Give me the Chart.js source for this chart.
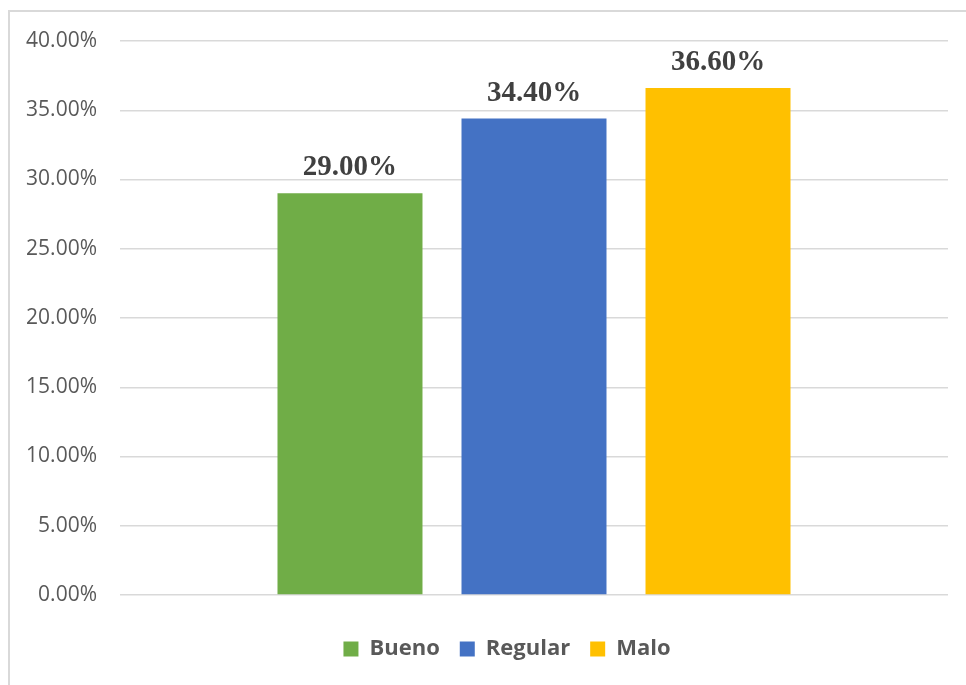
<!DOCTYPE html>
<html>
<head>
<meta charset="utf-8">
<script src="https://cdn.jsdelivr.net/npm/chart.js@4.4.0/dist/chart.umd.min.js"></script>
<style>
html,body{margin:0;padding:0;background:#fff;width:966px;height:685px;overflow:hidden;}
#frame{position:absolute;left:8px;top:10px;width:980px;height:700px;border-left:2px solid #d9d9d9;border-top:2px solid #d9d9d9;box-sizing:border-box;}
#wrap{position:absolute;left:0;top:0;width:1000px;height:685px;}
</style>
</head>
<body>
<div id="frame"></div>
<div id="wrap"><canvas id="c" width="1000" height="685"></canvas></div>
<script>
const categories = ['Bueno', 'Regular', 'Malo'];
const values = [29.0, 34.4, 36.6];
const colors = ['#70ad47', '#4472c4', '#ffc000'];
const yTicks = [0, 5, 10, 15, 20, 25, 30, 35, 40];

const datasets = categories.map((name, i) => ({
  label: name,
  data: [values[i]],
  backgroundColor: colors[i],
  borderWidth: 0,
  categoryPercentage: 0.6667,
  barPercentage: 0.788
}));

const valueLabels = {
  id: 'valueLabels',
  afterDatasetsDraw(chart) {
    const ctx = chart.ctx;
    ctx.save();
    ctx.font = 'bold 29px "Liberation Serif", "Times New Roman", serif';
    ctx.fillStyle = '#404040';
    ctx.textAlign = 'center';
    ctx.textBaseline = 'alphabetic';
    chart.data.datasets.forEach((ds, i) => {
      const meta = chart.getDatasetMeta(i);
      meta.data.forEach((bar, j) => {
        ctx.fillText(ds.data[j].toFixed(2) + '%', bar.x, bar.y - 18);
      });
    });
    ctx.restore();
  }
};

new Chart(document.getElementById('c'), {
  type: 'bar',
  data: { labels: [''], datasets },
  plugins: [valueLabels],
  options: {
    responsive: false,
    animation: false,
    devicePixelRatio: 1,
    layout: { padding: { left: 20, right: 6, top: 41, bottom: 15 } },
    plugins: {
      tooltip: { enabled: false },
      legend: {
        position: 'bottom',
        labels: {
          boxWidth: 15,
          boxHeight: 15,
          padding: 20,
          color: '#595959',
          font: { family: '"Open Sans", sans-serif', size: 22, weight: 'bold' }
        }
      }
    },
    scales: {
      x: {
        display: true,
        afterFit(scale) { scale.height = 23; },
        ticks: { display: false },
        grid: { display: false },
        border: { display: false }
      },
      y: {
        min: 0,
        max: 40,
        afterFit(scale) { scale.width = 100; },
        afterBuildTicks(scale) { scale.ticks = yTicks.map(v => ({ value: v })); },
        border: { display: false },
        grid: { color: '#d9d9d9', lineWidth: 1.5, drawTicks: false },
        ticks: {
          padding: 23,
          color: '#595959',
          font: { family: '"Open Sans", sans-serif', size: 21 },
          callback: v => v.toFixed(2) + '%'
        }
      },
      y2: {
        position: 'right',
        display: true,
        min: 0,
        max: 40,
        afterFit(scale) { scale.width = 46; },
        ticks: { display: false },
        grid: { display: false, drawOnChartArea: false },
        border: { display: false }
      }
    }
  }
});
</script>
</body>
</html>
